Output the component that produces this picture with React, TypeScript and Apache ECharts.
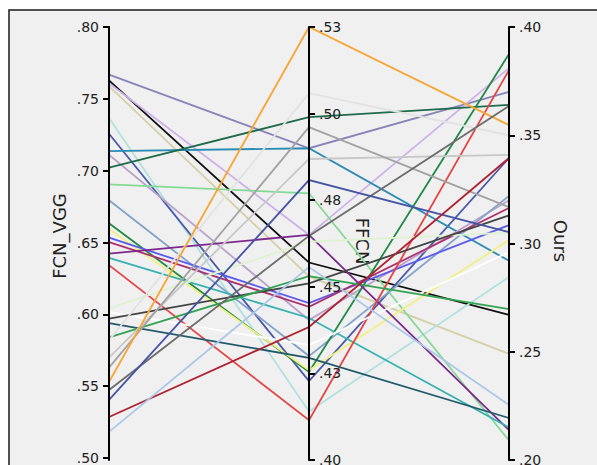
import React, { useEffect, useRef } from "react";
import * as echarts from "echarts";

const axisNames = ["FCN_VGG", "FFCN", "Ours"];

const fcnVgg = [0.767, 0.763, 0.761, 0.759, 0.737, 0.726, 0.714, 0.7115, 0.7026, 0.691, 0.68, 0.664, 0.66, 0.654, 0.651, 0.643, 0.64, 0.635, 0.6024, 0.605, 0.598, 0.5948, 0.585, 0.583, 0.571, 0.564, 0.554, 0.5485, 0.5416, 0.5298, 0.5195];
const ffcn = [0.49, 0.457, 0.465, 0.453, 0.414, 0.4228, 0.49, 0.4404, 0.499, 0.477, 0.43, 0.4254, 0.4259, 0.4453, 0.4442, 0.465, 0.441, 0.4115, 0.4332, 0.463, 0.451, 0.4295, 0.4531, 0.5059, 0.4869, 0.4961, 0.525, 0.4647, 0.4808, 0.4384, 0.4557];
const ours = [0.37, 0.267, 0.381, 0.249, 0.2845, 0.3395, 0.292, 0.32, 0.364, 0.209, 0.322, 0.3875, 0.3016, 0.3085, 0.3164, 0.2138, 0.215, 0.3801, 0.296, 0.305, 0.313, 0.2194, 0.2697, 0.35, 0.3409, 0.3168, 0.3547, 0.3635, 0.3053, 0.3395, 0.2254];
const lineColors = ["#8884b8", "#111111", "#cdb2ea", "#d4d0a8", "#b0e2de", "#4a5aaa", "#2a8cb4", "#baa2cc", "#1e6b4b", "#84da94", "#82a2ca", "#1f8a45", "#f2f080", "#5a5af0", "#b0306e", "#7b2a8c", "#34b2b0", "#e54444", "#ffffff", "#dff2d2", "#444444", "#215a6a", "#33a352", "#e2e2e2", "#c8c8c8", "#a3a3a3", "#f7a535", "#6c6c6c", "#4555a5", "#b0202e", "#aac8e8"];

const axisRanges = [
  { min: 0.5, max: 0.8, interval: 0.05 },
  { min: 0.4, max: 0.525, interval: 0.025 },
  { min: 0.2, max: 0.4, interval: 0.05 },
];

const fmt = (v: number) => {
  const r = Math.round(v * 100 + 1e-6) / 100;
  return r.toFixed(2).replace(/^0/, "");
};

export default function App() {
  const ref = useRef<HTMLDivElement>(null);
  useEffect(() => {
    if (!ref.current) return;
    const chart = echarts.init(ref.current, null, { renderer: "svg" });
    const font = "DejaVu Sans";
    const labelStyle = { margin: 10, fontSize: 14, fontFamily: font, color: "#222", formatter: fmt };
    const data = fcnVgg.map((v, i) => ({
      value: [v, ffcn[i], ours[i]],
      lineStyle: { color: lineColors[i] },
    }));
    chart.setOption({
      animation: false,
      backgroundColor: "#ffffff",
      grid: { left: 109, top: 27, bottom: 5, width: 1 },
      xAxis: { type: "value", show: false, min: 0, max: 1 },
      yAxis: {
        type: "value",
        position: "left",
        min: axisRanges[0].min,
        max: axisRanges[0].max,
        interval: axisRanges[0].interval,
        axisLine: { show: true, lineStyle: { color: "#000", width: 2 } },
        axisTick: { show: true, length: 6, lineStyle: { color: "#000", width: 2 } },
        axisLabel: labelStyle,
        splitLine: { show: false },
      },
      parallel: {
        left: 109,
        right: 88,
        top: 27,
        bottom: 5,
        layout: "horizontal",
      },
      parallelAxis: axisRanges.map((r, i) => ({
        dim: i,
        name: "",
        type: "value",
        min: r.min,
        max: r.max,
        interval: r.interval,
        axisLine: { lineStyle: { color: "#000", width: 2 } },
        axisTick: { show: i !== 0, length: i === 0 ? 0 : 6, lineStyle: { color: "#000", width: 2 } },
        axisLabel: i === 0
          ? { show: false, color: "rgba(0,0,0,0)", formatter: () => "" }
          : labelStyle,
        splitLine: { show: false },
      })),
      graphic: [
        {
          type: "rect",
          z: -10,
          silent: true,
          shape: { x: 9, y: 10, width: 620, height: 480 },
          style: { fill: "#f0f0f0", stroke: "#1a1a1a", lineWidth: 1.5 },
        },
        {
          type: "text",
          x: 59,
          y: 236,
          rotation: Math.PI / 2,
          style: { text: axisNames[0], fontSize: 18, fontFamily: font, fill: "#222", align: "center", verticalAlign: "middle" },
        },
        {
          type: "text",
          x: 362,
          y: 241,
          rotation: -Math.PI / 2,
          style: { text: axisNames[1], fontSize: 18, fontFamily: font, fill: "#222", align: "center", verticalAlign: "middle" },
        },
        {
          type: "text",
          x: 560,
          y: 241,
          rotation: -Math.PI / 2,
          style: { text: axisNames[2], fontSize: 18, fontFamily: font, fill: "#222", align: "center", verticalAlign: "middle" },
        },
      ],
      series: [
        {
          type: "parallel",
          smooth: false,
          lineStyle: { width: 1.8, opacity: 1 },
          emphasis: { disabled: true },
          data,
        },
      ],
    });
    return () => chart.dispose();
  }, []);
  return <div ref={ref} style={{ position: "absolute", left: 0, top: 0, width: 597, height: 465 }} />;
}
